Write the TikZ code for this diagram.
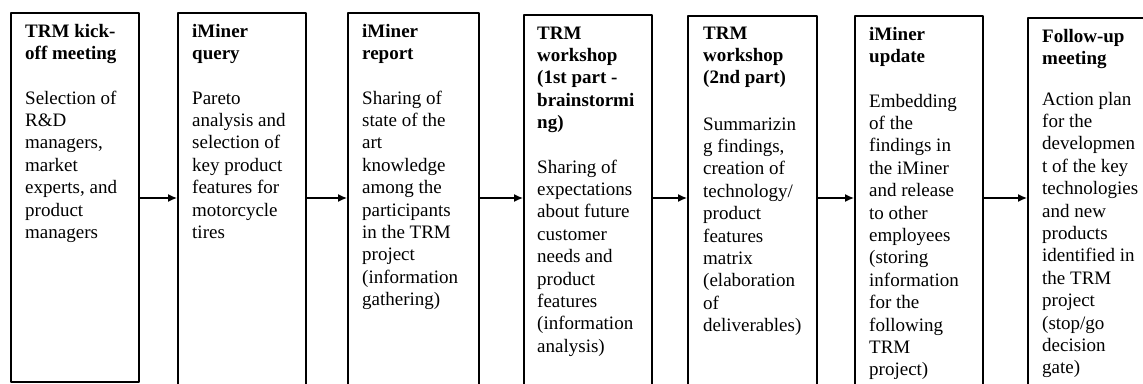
\documentclass[tikz,border=0pt]{standalone}
\usepackage{fontspec}
\setmainfont{Liberation Serif}
\usetikzlibrary{arrows.meta}

\tikzset{
	stagebox/.style={draw, line width=1.6pt, anchor=north west, minimum width=128pt, minimum height=400pt, inner sep=0pt},
	stagehead/.style={anchor=base west, align=left, inner sep=0pt, font=\fontsize{19}{22.4}\selectfont\bfseries},
	stagetext/.style={anchor=base west, align=left, inner sep=0pt, font=\fontsize{19}{22.4}\selectfont},
	flow/.style={-{Latex[length=9pt,width=8pt]}, line width=1.3pt}
}

\begin{document}
\begin{tikzpicture}[x=1pt, y=-1pt, line join=round]
			\useasboundingbox (0,0) rectangle (1143,383);
			\clip (0,0) rectangle (1143,383);
			
			% stages
			\node[stagebox, minimum height=369pt] (kickoff) at (10,12) {};
			\node[stagebox] (query) at (177,12) {};
			\node[stagebox, minimum width=131pt] (report) at (347,12) {};
			\node[stagebox] (wsone) at (523,14) {};
			\node[stagebox, minimum width=129pt] (wstwo) at (687,15) {};
			\node[stagebox] (update) at (854,15) {};
			\node[stagebox, minimum width=140pt] (followup) at (1027,17) {};
			
			% titles (placed at the baseline of their last line)
			\node[stagehead] (h1) at (25,59.4) {TRM kick-\\off meeting};
			\node[stagehead] (h2) at (192,59.4) {iMiner\\query};
			\node[stagehead] (h3) at (362,59.4) {iMiner\\report};
			\node[stagehead] (h4) at (537,128.6) {TRM\\workshop\\(1st part -\\brainstormi\\ng)};
			\node[stagehead] (h5) at (703,83.8) {TRM\\workshop\\(2nd part)};
			\node[stagehead] (h6) at (869,62.4) {iMiner\\update};
			\node[stagehead] (h7) at (1042,64.4) {Follow-up\\meeting};
			
			% descriptions
			\node[stagetext] (d1) at (25,238.4) {Selection of\\R\&D\\managers,\\market\\experts, and\\product\\managers};
			\node[stagetext] (d2) at (192,238.4) {Pareto\\analysis and\\selection of\\key product\\features for\\motorcycle\\tires};
			\node[stagetext] (d3) at (362,305.6) {Sharing of\\state of the\\art\\knowledge\\among the\\participants\\in the TRM\\project\\(information\\gathering)};
			\node[stagetext] (d4) at (537,352.2) {Sharing of\\expectations\\about future\\customer\\needs and\\product\\features\\(information\\analysis)};
			\node[stagetext] (d5) at (703,331.6) {Summarizin\\g findings,\\creation of\\technology/\\product\\features\\matrix\\(elaboration\\of\\deliverables)};
			\node[stagetext] (d6) at (869,375.8) {Embedding\\of the\\findings in\\the iMiner\\and release\\to other\\employees\\(storing\\information\\for the\\following\\TRM\\project)};
			\node[stagetext] (d7) at (1042,373.8) {Action plan\\for the\\developmen\\t of the key\\technologies\\and new\\products\\identified in\\the TRM\\project\\(stop/go\\decision\\gate)};
			
			% arrows
			\coordinate (lvl) at (0,198);
			\draw[flow] (kickoff.east |- lvl) -- (query.west |- lvl);
			\draw[flow] (query.east |- lvl) -- (report.west |- lvl);
			\draw[flow] (report.east |- lvl) -- (wsone.west |- lvl);
			\draw[flow] (wsone.east |- lvl) -- (wstwo.west |- lvl);
			\draw[flow] (wstwo.east |- lvl) -- (update.west |- lvl);
			\draw[flow] (update.east |- lvl) -- (followup.west |- lvl);
		\end{tikzpicture}
\end{document}
